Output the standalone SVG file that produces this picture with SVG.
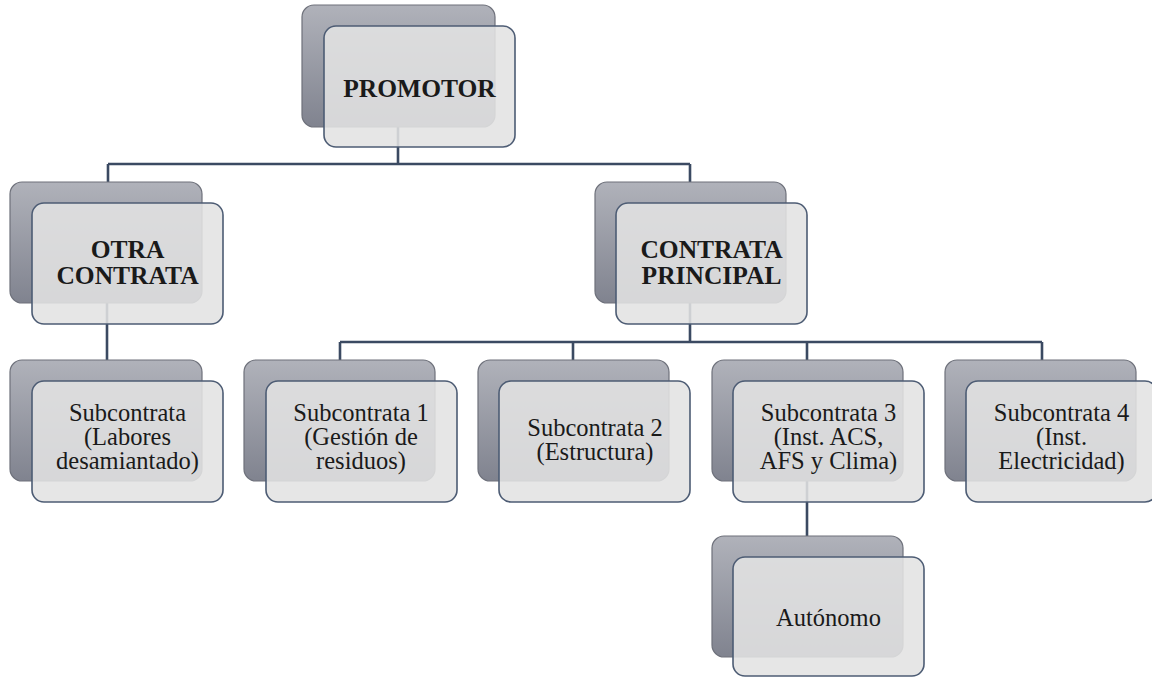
<svg xmlns="http://www.w3.org/2000/svg" width="1152" height="678" viewBox="0 0 1152 678">
<defs>
<linearGradient id="bg" x1="0" y1="0" x2="0" y2="1">
<stop offset="0" stop-color="#b0b2ba"/>
<stop offset="1" stop-color="#80838f"/>
</linearGradient>
<style>
.back{fill:url(#bg);stroke:#6e717b;stroke-width:1.2}
.front{fill:#e2e2e2;fill-opacity:0.88;stroke:#4d5c74;stroke-width:1.6}
.conn{fill:none;stroke:#3b4a62;stroke-width:2.6}
.b{font-weight:bold;font-size:25.5px;fill:#1a1a1a;text-anchor:middle}
.r{font-size:24.5px;fill:#1a1a1a;text-anchor:middle}
</style>
</defs>
<rect width="1152" height="678" fill="#ffffff"/>
<g id="connectors">
<path class="conn" d="M398 127 V164 M108 164 H690 M108 164 V182 M690 164 V182"/>
<path class="conn" d="M107 303 V360"/>
<path class="conn" d="M690 303 V342 M340 342 H1042 M340 342 V360 M573 342 V360 M807 342 V360 M1042 342 V360"/>
<path class="conn" d="M807 481 V536"/>
</g>
<g font-family="'Liberation Serif', 'Times New Roman', 'DejaVu Serif', serif">
<g id="promotor">
<rect class="back" x="302" y="5" width="193" height="122" rx="12"/>
<rect class="front" x="324" y="26" width="191" height="121" rx="12"/>
<text class="b" x="419.5" y="97">PROMOTOR</text>
</g>
<g id="otra-contrata">
<rect class="back" x="10" y="182" width="192" height="121" rx="12"/>
<rect class="front" x="32" y="203" width="191" height="121" rx="12"/>
<text class="b" x="127.5" y="258">OTRA</text>
<text class="b" x="127.5" y="284">CONTRATA</text>
</g>
<g id="contrata-principal">
<rect class="back" x="595" y="182" width="191" height="121" rx="12"/>
<rect class="front" x="616" y="203" width="191" height="121" rx="12"/>
<text class="b" x="711.5" y="258">CONTRATA</text>
<text class="b" x="711.5" y="284">PRINCIPAL</text>
</g>
<g id="subcontrata-labores">
<rect class="back" x="10" y="360" width="192" height="121" rx="12"/>
<rect class="front" x="32" y="381" width="191" height="121" rx="12"/>
<text class="r" x="127.5" y="421">Subcontrata</text>
<text class="r" x="127.5" y="445">(Labores</text>
<text class="r" x="127.5" y="469">desamiantado)</text>
</g>
<g id="subcontrata-1">
<rect class="back" x="244" y="360" width="191" height="121" rx="12"/>
<rect class="front" x="266" y="381" width="191" height="121" rx="12"/>
<text class="r" x="361" y="421">Subcontrata 1</text>
<text class="r" x="361" y="445">(Gestión de</text>
<text class="r" x="361" y="469">residuos)</text>
</g>
<g id="subcontrata-2">
<rect class="back" x="478" y="360" width="191" height="121" rx="12"/>
<rect class="front" x="499" y="381" width="191" height="121" rx="12"/>
<text class="r" x="595" y="436">Subcontrata 2</text>
<text class="r" x="595" y="460">(Estructura)</text>
</g>
<g id="subcontrata-3">
<rect class="back" x="712" y="360" width="191" height="121" rx="12"/>
<rect class="front" x="733" y="381" width="191" height="121" rx="12"/>
<text class="r" x="828.5" y="421">Subcontrata 3</text>
<text class="r" x="828.5" y="445">(Inst. ACS,</text>
<text class="r" x="828.5" y="469">AFS y Clima)</text>
</g>
<g id="subcontrata-4">
<rect class="back" x="945" y="360" width="191" height="121" rx="12"/>
<rect class="front" x="966" y="381" width="191" height="121" rx="12"/>
<text class="r" x="1061.5" y="421">Subcontrata 4</text>
<text class="r" x="1061.5" y="445">(Inst.</text>
<text class="r" x="1061.5" y="469">Electricidad)</text>
</g>
<g id="autonomo">
<rect class="back" x="712" y="536" width="191" height="121" rx="12"/>
<rect class="front" x="733" y="557" width="191" height="119" rx="12"/>
<text class="r" x="828.5" y="626">Autónomo</text>
</g>
</g>
</svg>
